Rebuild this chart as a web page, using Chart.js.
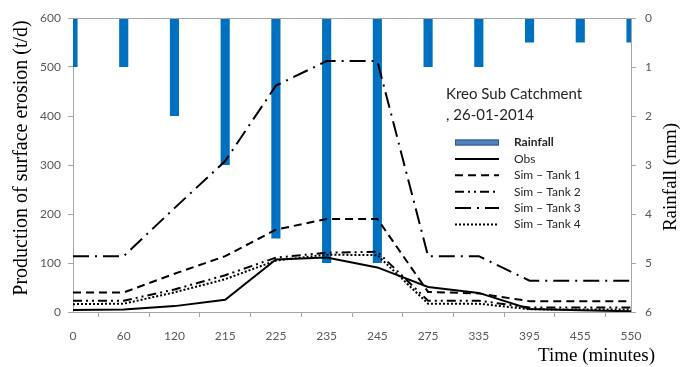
<!DOCTYPE html>
<html>
<head>
<meta charset="utf-8">
<script src="https://cdn.jsdelivr.net/npm/chart.js@4.4.1/dist/chart.umd.min.js"></script>
<style>
  html, body { margin: 0; padding: 0; background: #fff; }
  #wrap { width: 691px; height: 367px; }
</style>
</head>
<body>
<div id="wrap"><canvas id="c" width="691" height="367"></canvas></div>
<script>
// Time steps (minutes)
const times = ['0', '60', '120', '215', '225', '235', '245', '275', '335', '395', '455', '550'];

// Rainfall (mm), plotted downward from the top on the right axis
const rainfall = [1, 1, 2, 3, 4.5, 5, 5, 1, 1, 0.5, 0.5, 0.5];

// Production of surface erosion (t/d)
const obs   = [4, 5, 12, 25, 107, 111, 91, 51, 39, 6, 3.5, 1.5];
const tank1 = [40, 40, 78, 114, 168, 190, 190, 41, 38, 22, 22, 22];
const tank2 = [23, 23, 46, 75, 111, 121, 123, 23, 23, 9, 9, 9];
const tank3 = [114, 114, 212, 308, 462, 512, 512, 114, 114, 64, 64, 64];
const tank4 = [16, 17, 40, 67, 105, 117, 116, 17, 17, 5.5, 5, 5];

const leftTicks = [0, 100, 200, 300, 400, 500, 600];
const rightTicks = [0, 1, 2, 3, 4, 5, 6];

const tickFont = { family: 'Lato, "Open Sans", sans-serif', size: 12 };
const tickColor = '#595959';
const axisColor = '#a6a6a6';

function line(label, data, dash, width) {
  return {
    type: 'line', label, data, yAxisID: 'y',
    borderColor: '#000', backgroundColor: '#000',
    borderWidth: width || 2, borderDash: dash,
    pointRadius: 0, tension: 0, fill: false, order: 1
  };
}

// Axis titles, top frame line and the in-plot legend
const overlay = {
  id: 'overlay',
  afterDraw(chart) {
    const { ctx, chartArea: a } = chart;
    ctx.save();
    // top frame
    ctx.strokeStyle = axisColor;
    ctx.lineWidth = 1;
    ctx.beginPath();
    ctx.moveTo(a.left, a.top + 0.5);
    ctx.lineTo(a.right, a.top + 0.5);
    ctx.stroke();

    // axis titles
    ctx.fillStyle = '#000';
    ctx.textBaseline = 'middle';
    ctx.textAlign = 'center';
    ctx.font = '20px "Liberation Serif", "Times New Roman", serif';
    ctx.save();
    ctx.translate(22, 158);
    ctx.rotate(-Math.PI / 2);
    ctx.fillText('Production of surface erosion (t/d)', 0, 0);
    ctx.restore();
    ctx.font = '19px "Liberation Serif", "Times New Roman", serif';
    ctx.save();
    ctx.translate(671, 177);
    ctx.rotate(-Math.PI / 2);
    ctx.fillText('Rainfall (mm)', 0, 0);
    ctx.restore();
    ctx.textAlign = 'right';
    ctx.fillText('Time (minutes)', 655, 356);

    // legend
    ctx.textAlign = 'left';
    ctx.fillStyle = '#262626';
    ctx.font = '15px Lato, "Open Sans", sans-serif';
    ctx.fillText('Kreo Sub Catchment', 446, 94);
    ctx.fillText(', 26-01-2014', 446, 115);

    const x0 = 455, x1 = 499, tx = 514, y0 = 142.5, dy = 16.4;
    const ds = chart.data.datasets;
    // rainfall sample
    ctx.fillStyle = '#4F81BD';
    ctx.fillRect(x0, y0 - 3, x1 - x0, 6);
    ctx.strokeStyle = '#2E5A8C';
    ctx.strokeRect(x0 + 0.5, y0 - 2.5, x1 - x0 - 1, 5);
    ctx.fillStyle = '#262626';
    ctx.font = 'bold 12px Lato, "Open Sans", sans-serif';
    ctx.fillText(ds[0].label, tx, y0);
    ctx.font = '12px Lato, "Open Sans", sans-serif';
    for (let i = 1; i < ds.length; i++) {
      const y = y0 + dy * i;
      ctx.strokeStyle = '#000';
      ctx.lineWidth = ds[i].borderWidth;
      ctx.setLineDash(ds[i].borderDash || []);
      ctx.beginPath();
      ctx.moveTo(x0, y);
      ctx.lineTo(x1, y);
      ctx.stroke();
      ctx.setLineDash([]);
      ctx.fillText(ds[i].label, tx, y);
    }
    ctx.restore();
  }
};

new Chart(document.getElementById('c'), {
  data: {
    labels: times,
    datasets: [
      {
        type: 'bar', label: 'Rainfall', data: rainfall, yAxisID: 'y2',
        backgroundColor: '#0070C0', borderWidth: 0,
        barPercentage: 0.18, categoryPercentage: 1, order: 10
      },
      line('Obs', obs, []),
      line('Sim – Tank 1', tank1, [8, 5]),
      line('Sim – Tank 2', tank2, [9, 4, 2, 4, 2, 4]),
      line('Sim – Tank 3', tank3, [16, 6, 2, 6]),
      line('Sim – Tank 4', tank4, [2, 2])
    ]
  },
  options: {
    responsive: false,
    animation: false,
    devicePixelRatio: 1,
    layout: { padding: { top: 18, left: 0, right: 0, bottom: 0 } },
    plugins: { legend: { display: false }, tooltip: { enabled: false } },
    scales: {
      x: {
        type: 'category', offset: false,
        grid: { display: true, drawOnChartArea: false, drawTicks: true, tickLength: 5, color: axisColor },
        border: { color: axisColor },
        ticks: { color: tickColor, font: tickFont, padding: 12, maxRotation: 0, autoSkip: false },
        afterFit(s) { s.height = 55; }
      },
      y: {
        position: 'left', min: 0, max: 600,
        afterBuildTicks(s) { s.ticks = leftTicks.map(v => ({ value: v })); },
        grid: { display: true, drawOnChartArea: false, drawTicks: true, tickLength: 5, color: axisColor },
        border: { color: axisColor },
        ticks: { color: tickColor, font: tickFont, padding: 7 },
        afterFit(s) { s.width = 73; }
      },
      y2: {
        position: 'right', min: 0, max: 6, reverse: true,
        afterBuildTicks(s) { s.ticks = rightTicks.map(v => ({ value: v })); },
        grid: { display: true, drawOnChartArea: false, drawTicks: true, tickLength: 5, color: axisColor },
        border: { color: axisColor },
        ticks: { color: tickColor, font: tickFont, padding: 9 },
        afterFit(s) { s.width = 60; }
      }
    }
  },
  plugins: [overlay]
});
</script>
</body>
</html>
